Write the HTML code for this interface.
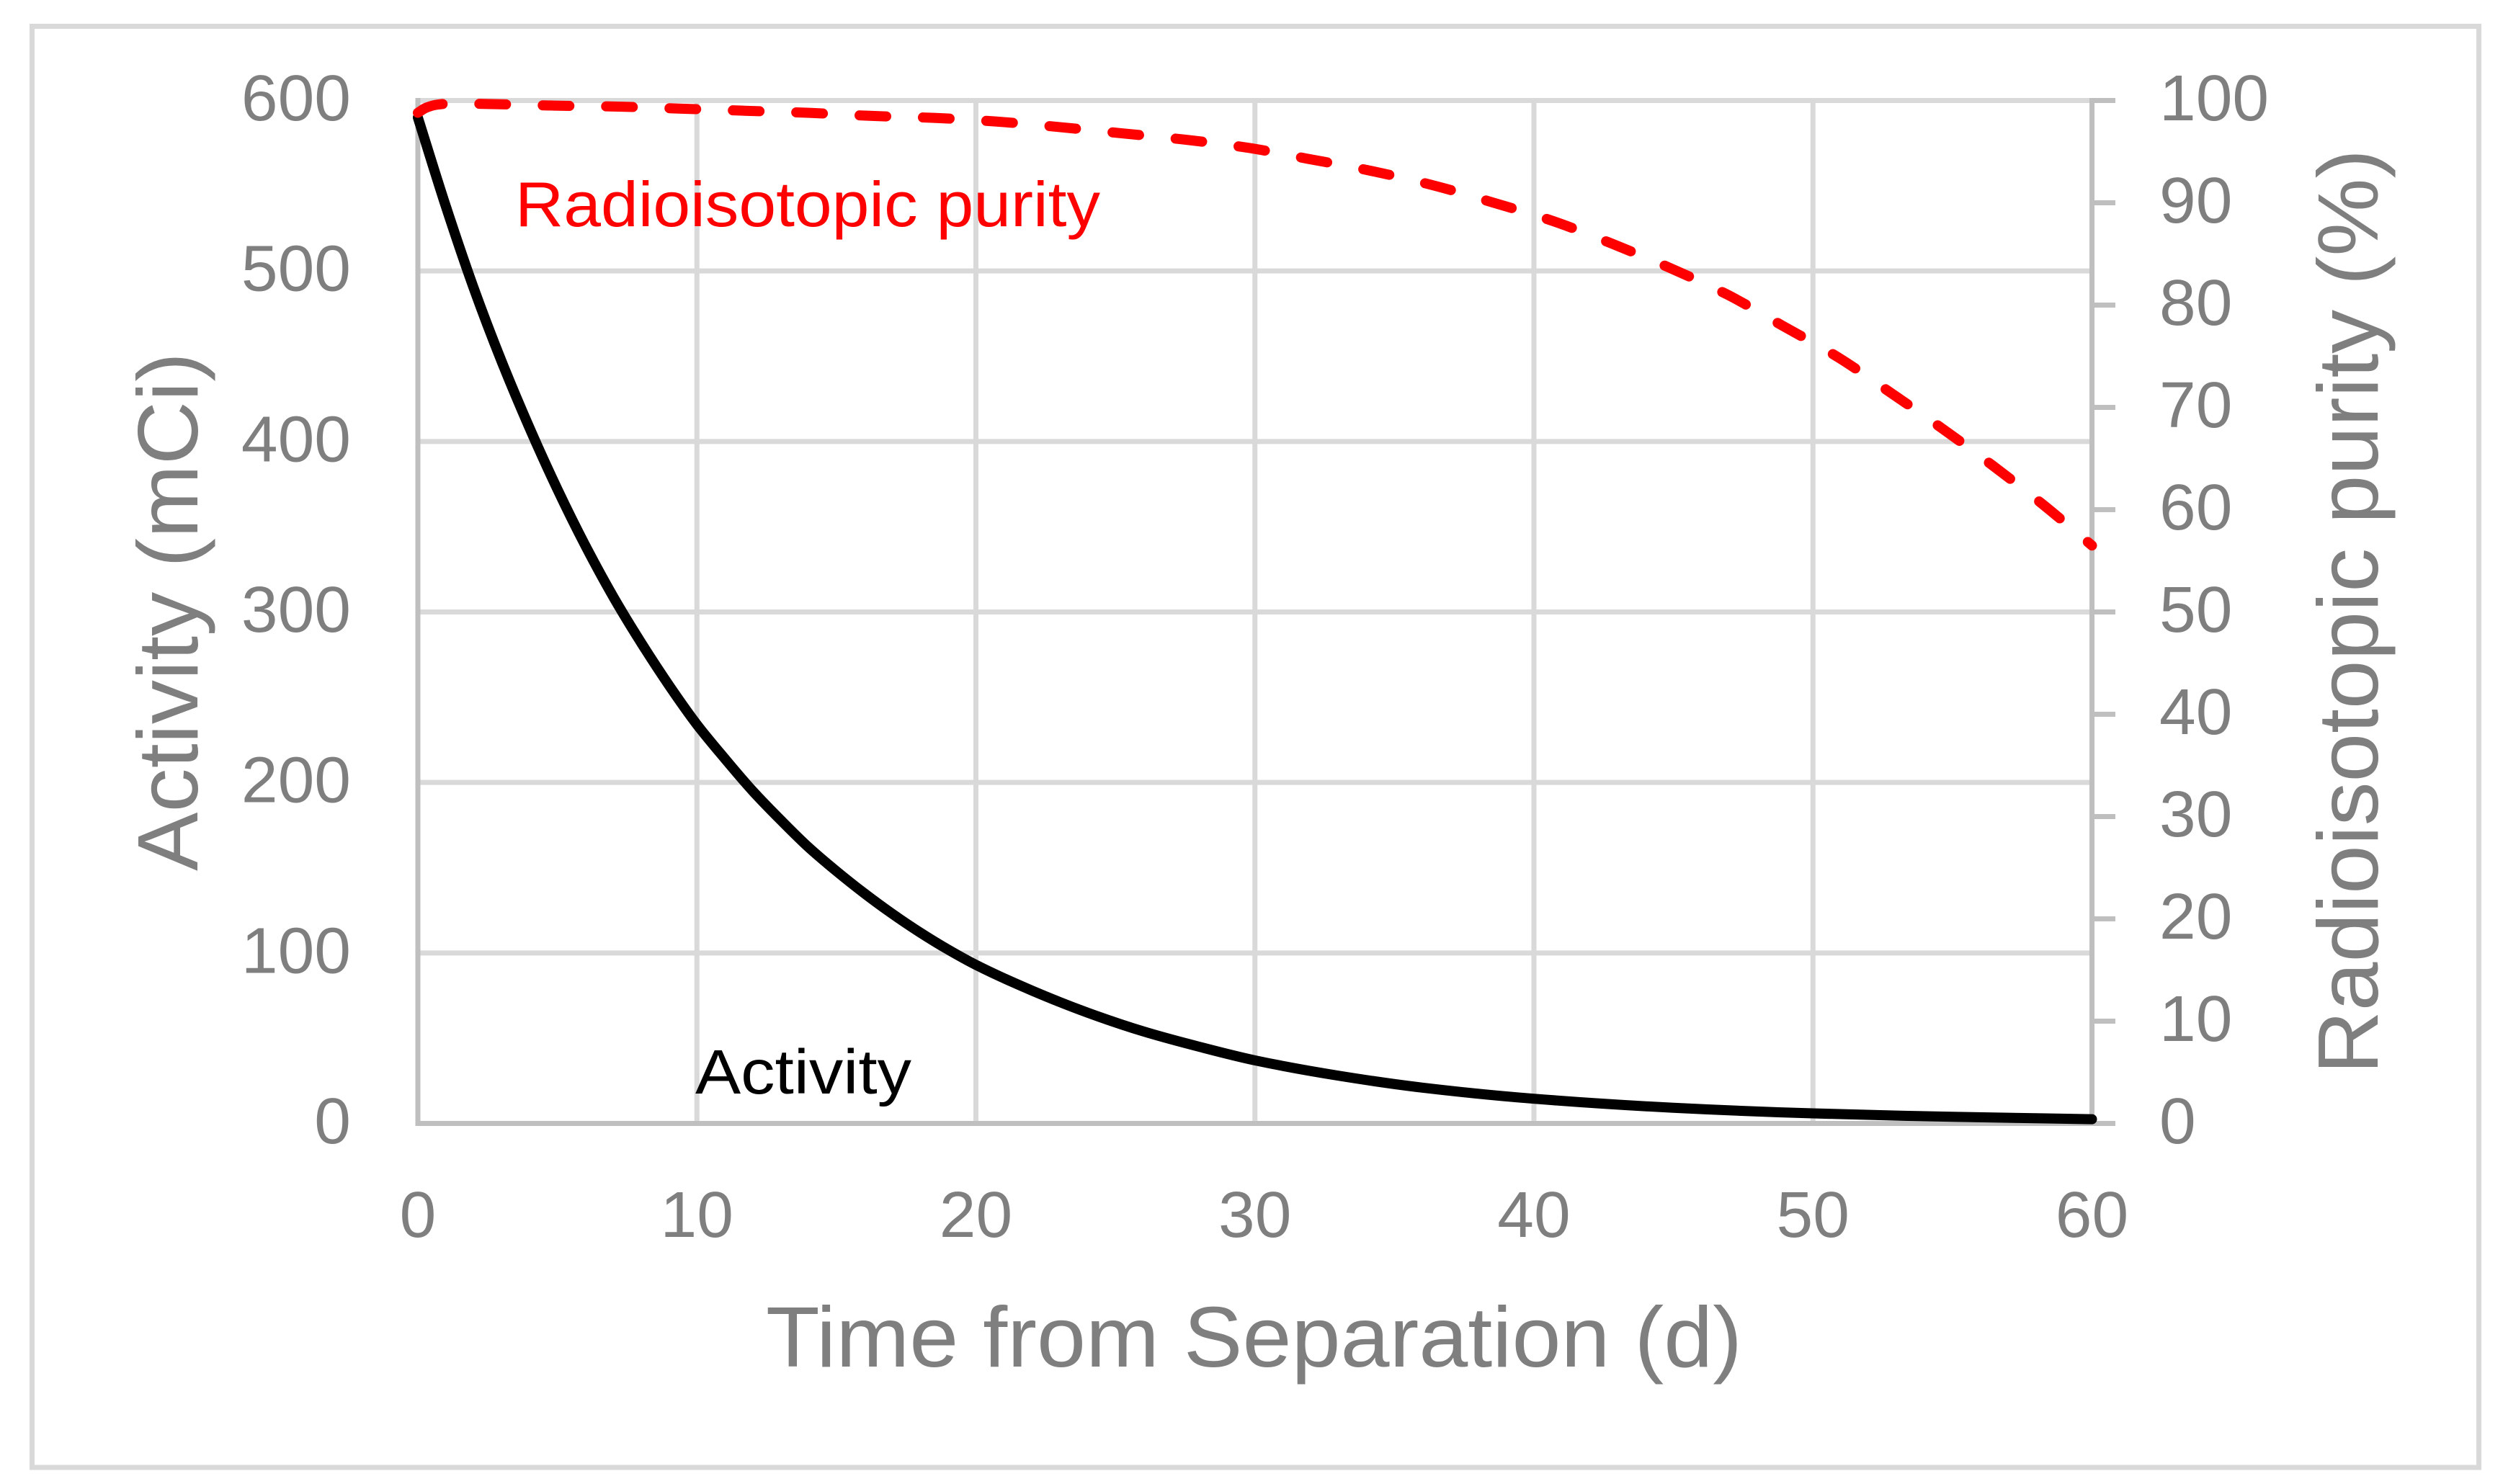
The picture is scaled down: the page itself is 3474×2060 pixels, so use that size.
<!DOCTYPE html>
<html lang="en">
<head>
<meta charset="utf-8">
<title>Activity and radioisotopic purity vs time from separation</title>
<style>
  html, body { margin: 0; padding: 0; background: #ffffff; }
  svg { display: block; }
  text { font-family: "Liberation Sans", sans-serif; }
</style>
</head>
<body>
<svg id="chart" xmlns="http://www.w3.org/2000/svg" width="3474" height="2060" viewBox="0 0 3474 2060">
  <rect x="44.5" y="36.5" width="3396" height="2000.5" fill="#ffffff" stroke="#d9d9d9" stroke-width="7"/>
  <g id="grid"></g>
  <g id="axes"></g>
  <g id="tick-labels"></g>
  <g id="series"></g>
  <text x="1063" y="1897" font-size="119" fill="#7f7f7f" textLength="1355" lengthAdjust="spacingAndGlyphs">Time from Separation (d)</text>
  <text transform="translate(274,1209) rotate(-90)" font-size="119" fill="#7f7f7f" textLength="720" lengthAdjust="spacingAndGlyphs">Activity (mCi)</text>
  <text transform="translate(3300,1491) rotate(-90)" font-size="119" fill="#7f7f7f" textLength="1284" lengthAdjust="spacingAndGlyphs">Radioisotopic purity (%)</text>
  <text x="715" y="314" font-size="88" fill="#ff0000" textLength="812" lengthAdjust="spacingAndGlyphs">Radioisotopic purity</text>
  <text x="965" y="1518" font-size="87" fill="#000000" textLength="300" lengthAdjust="spacingAndGlyphs">Activity</text>
</svg>
<script>
const xTicks = [0, 10, 20, 30, 40, 50, 60];
const activityTicks = [0, 100, 200, 300, 400, 500, 600];
const purityTicks = [0, 10, 20, 30, 40, 50, 60, 70, 80, 90, 100];

const activityDays = [0, 1, 2, 3, 4, 5, 6, 7, 8, 9, 10, 11, 12, 13, 14, 15, 16, 17, 18, 19, 20, 22, 24, 26, 28, 30, 33, 36, 40, 45, 50, 55, 60];
const activityValues = [590, 538, 490, 447, 408, 372, 339, 309, 282, 257, 234, 214, 195, 178, 162, 148, 135, 123, 112, 102, 93, 78, 65, 54, 45, 37, 28, 21, 14.5, 9.2, 5.9, 3.9, 2.5];

const purityDays = [0, 0.3, 0.7, 1.2, 2.65, 4.9, 7.2, 9.45, 11.7, 13.95, 16.2, 18.5, 20.7, 23, 25.2, 27.4, 29.7, 31.9, 34.2, 36.4, 38.5, 40.7, 42.8, 44.9, 46.95, 48.9, 50.9, 52.75, 54.6, 56.4, 58.2, 60];
const purityValues = [98.8, 99.3, 99.6, 99.7, 99.65, 99.5, 99.4, 99.2, 99, 98.8, 98.5, 98.3, 97.95, 97.4, 96.8, 96.2, 95.4, 94.3, 93.1, 91.7, 90.05, 88.2, 86, 83.6, 81, 78, 74.9, 71.5, 68, 64.4, 60.6, 56.5];

const NS = 'http://www.w3.org/2000/svg';
const plotLeft = 580, plotRight = 2903.5, plotTop = 139.5, plotBottom = 1559.5;
const xMax = xTicks[xTicks.length - 1];
const activityMax = activityTicks[activityTicks.length - 1];
const purityMax = purityTicks[purityTicks.length - 1];

function xScale(v) { return plotLeft + (v / xMax) * (plotRight - plotLeft); }
function yActivity(v) { return plotBottom - (v / activityMax) * (plotBottom - plotTop); }
function yPurity(v) { return plotBottom - (v / purityMax) * (plotBottom - plotTop); }

function line(parent, x1, y1, x2, y2, color) {
  const el = document.createElementNS(NS, 'line');
  el.setAttribute('x1', x1);
  el.setAttribute('y1', y1);
  el.setAttribute('x2', x2);
  el.setAttribute('y2', y2);
  el.setAttribute('stroke', color);
  el.setAttribute('stroke-width', '7');
  parent.appendChild(el);
  return el;
}

function label(parent, str, x, y, anchor) {
  const el = document.createElementNS(NS, 'text');
  el.setAttribute('x', x);
  el.setAttribute('y', y);
  el.setAttribute('text-anchor', anchor);
  el.setAttribute('font-size', '90');
  el.setAttribute('fill', '#7f7f7f');
  el.setAttribute('textLength', String(str).length * 50.7);
  el.setAttribute('lengthAdjust', 'spacingAndGlyphs');
  el.textContent = str;
  parent.appendChild(el);
  return el;
}

function smoothPath(xs, ys) {
  const px = xs.map(xScale);
  const n = px.length;
  const slopes = [];
  for (let i = 0; i < n - 1; i++) slopes.push((ys[i + 1] - ys[i]) / (px[i + 1] - px[i]));
  const tang = [slopes[0]];
  for (let i = 1; i < n - 1; i++) {
    if (slopes[i - 1] * slopes[i] <= 0) { tang.push(0); continue; }
    const h0 = px[i] - px[i - 1], h1 = px[i + 1] - px[i];
    const w1 = 2 * h1 + h0, w2 = h1 + 2 * h0;
    tang.push((w1 + w2) / (w1 / slopes[i - 1] + w2 / slopes[i]));
  }
  tang.push(slopes[n - 2]);
  let d = 'M' + px[0].toFixed(2) + ' ' + ys[0].toFixed(2);
  for (let i = 0; i < n - 1; i++) {
    const h = (px[i + 1] - px[i]) / 3;
    d += ' C' + (px[i] + h).toFixed(2) + ' ' + (ys[i] + tang[i] * h).toFixed(2) +
         ' ' + (px[i + 1] - h).toFixed(2) + ' ' + (ys[i + 1] - tang[i + 1] * h).toFixed(2) +
         ' ' + px[i + 1].toFixed(2) + ' ' + ys[i + 1].toFixed(2);
  }
  return d;
}

const gridG = document.getElementById('grid');
const axesG = document.getElementById('axes');
const labelsG = document.getElementById('tick-labels');
const seriesG = document.getElementById('series');

xTicks.forEach(function (t) {
  if (t > 0 && t < xMax) {
    const g = line(gridG, xScale(t), plotTop, xScale(t), plotBottom, '#d9d9d9');
    
    
  }
  const l = label(labelsG, t, xScale(t), 1717, 'middle');
  
  
});

activityTicks.forEach(function (t) {
  if (t > 0) {
    const g = line(gridG, plotLeft, yActivity(t), plotRight, yActivity(t), '#d9d9d9');
    
    
  }
  const l = label(labelsG, t, 487, yActivity(t) + 27.5, 'end');
  
  
});

const leftAxis = line(axesG, plotLeft, plotTop - 3.5, plotLeft, plotBottom + 3.5, '#bfbfbf');



const bottomAxis = line(axesG, plotLeft - 3.5, plotBottom, plotRight, plotBottom, '#bfbfbf');



const rightAxis = line(axesG, plotRight, plotTop - 3.5, plotRight, plotBottom + 3.5, '#bfbfbf');



purityTicks.forEach(function (t) {
  const tick = line(axesG, plotRight, yPurity(t), 2936, yPurity(t), '#bfbfbf');
  
  
  const l = label(labelsG, t, 2997, yPurity(t) + 27.5, 'start');
  
  
});

const activityPath = document.createElementNS(NS, 'path');
activityPath.setAttribute('d', smoothPath(activityDays, activityValues.map(yActivity)));
activityPath.setAttribute('fill', 'none');
activityPath.setAttribute('stroke', '#000000');
activityPath.setAttribute('stroke-width', '14');
activityPath.setAttribute('stroke-linecap', 'round');
activityPath.setAttribute('stroke-linejoin', 'round');


seriesG.appendChild(activityPath);

const purityPath = document.createElementNS(NS, 'path');
purityPath.setAttribute('d', smoothPath(purityDays, purityValues.map(yPurity)));
purityPath.setAttribute('fill', 'none');
purityPath.setAttribute('stroke', '#ff0000');
purityPath.setAttribute('stroke-width', '14');
purityPath.setAttribute('stroke-linecap', 'round');
purityPath.setAttribute('stroke-linejoin', 'round');
purityPath.setAttribute('stroke-dasharray', '37 51');


seriesG.appendChild(purityPath);
</script>
</body>
</html>
